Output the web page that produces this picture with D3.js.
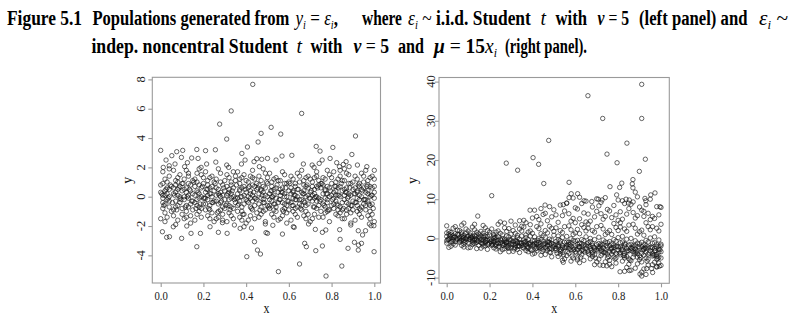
<!DOCTYPE html>
<html><head><meta charset="utf-8">
<script src="https://cdn.jsdelivr.net/npm/d3@7"></script>
<style>
body{margin:0;background:#fff;}
svg{display:block;}
.sq{transform-box:fill-box;transform-origin:center;transform:scaleX(0.86);}
</style>
</head><body>
<svg id="c" width="792" height="321"></svg>
<script>
// ---------------- DATA ----------------
const xTicks = [0, 0.2, 0.4, 0.6, 0.8, 1.0];
const xTickLabels = ["0.0", "0.2", "0.4", "0.6", "0.8", "1.0"];
const leftYTicks = [-4, -2, 0, 2, 4, 6, 8];
const rightYTicks = [-10, 0, 10, 20, 30, 40];

// left panel: y_i = eps_i, eps ~ iid t(5)   (x, y)
const leftPoints = [
[0.431,7.66],[0.33,5.85],[0.66,5.68],[0.276,4.95],[0.517,4.73],[0.47,4.32],[0.562,4.27],[0.912,4.14],[0.309,3.93],[0.456,3.73],
[0.728,3.43],[0.806,3.36],[0.406,3.39],[0.0,3.16],[0.103,3.16],[0.169,3.22],[0.21,3.14],[0.256,3.2],[0.746,3.11],[0.38,2.95],
[0.075,3.07],[0.895,2.88],[0.052,2.8],[0.614,2.82],[0.568,2.77],[0.097,2.68],[0.145,2.64],[0.175,2.61],[0.45,2.59],[0.473,2.55],
[0.5,2.61],[0.54,2.5],[0.793,2.61],[0.756,2.5],[0.742,2.27],[0.824,2.32],[0.868,2.39],[0.025,2.5],[0.012,2.0],[0.04,2.11],
[0.067,2.23],[0.125,2.32],[0.215,2.23],[0.258,2.36],[0.309,2.16],[0.378,2.23],[0.395,2.5],[0.437,2.39],[0.462,2.05],[0.668,2.23],
[0.709,2.16],[0.837,2.05],[0.855,2.2],[0.882,2.05],[0.921,2.16],[0.965,2.05],[0.718,2.0],[0.318,2.0],[0.189,2.0],[0.112,2.05],
[0.551,-5.11],[0.774,-5.41],[0.65,-4.59],[0.848,-4.73],[0.403,-4.09],[0.999,-3.75],[0.169,-3.41],[0.453,-3.64],[0.467,-3.91],[0.439,-3.07],
[0.674,-3.18],[0.682,-3.41],[0.726,-3.68],[0.757,-3.36],[0.907,-3.11],[0.926,-3.3],[0.925,-3.64],[0.94,-3.18],[0.877,-3.52],[0.84,-2.91],
[0.028,-2.77],[0.041,-2.73],[0.098,-2.84],[0.008,-2.39],[0.142,-2.5],[0.186,-2.5],[0.27,-2.43],[0.311,-2.5],[0.493,-2.45],[0.5,-2.5],
[0.57,-2.55],[0.724,-2.23],[0.757,-2.43],[0.773,-2.27],[0.838,-2.25],[0.925,-2.32],[0.945,-2.61],[0.959,-2.32],[0.985,-1.98],[0.621,-2.05],
[0.625,-2.09],[0.372,-2.16],[0.425,-2.14],[0.49,-1.86],[0.525,-1.95],[0.692,-1.86],[0.059,-2.05],[0.122,-2.0],[0.231,-2.05],[0.289,-1.77],
[0.345,-1.93],[0.39,-2.05],[0.89,-1.93],[0.977,-1.86],[0.998,-1.98],
[0.00,0.3],[0.01,-0.4],[0.01,0.9],[0.02,-1.1],[0.02,0.1],[0.03,0.6],[0.03,-0.2],[0.04,1.4],[0.04,-0.7],[0.00,-1.5],[0.01,1.7],[0.02,0.4],[0.03,-1.4],[0.04,0.0],[0.01,-0.8],[0.02,1.2],[0.03,0.2],[0.04,-0.3],[0.00,0.8],[0.01,0.1],[0.02,-0.5],[0.03,1.0],[0.04,0.5],[0.05,-1.0],[0.05,0.7],[0.02,-1.7],[0.04,1.9],[0.01,-0.1],
[0.06,0.2],[0.06,-0.9],[0.07,1.1],[0.07,-0.3],[0.08,0.5],[0.08,-1.6],[0.09,0.0],[0.09,1.5],[0.06,-1.3],[0.07,0.8],[0.08,-0.6],[0.09,-0.1],[0.10,0.4],[0.10,-1.2],[0.06,1.8],[0.07,-0.7],[0.08,1.0],[0.09,-0.4],[0.10,0.9],[0.06,0.6],[0.07,-1.9],[0.08,0.1],[0.09,0.7],[0.10,-0.8],[0.08,1.3],[0.07,0.3],
[0.11,-0.2],[0.11,1.2],[0.12,0.6],[0.12,-1.0],[0.13,0.1],[0.13,1.6],[0.14,-0.5],[0.14,0.8],[0.11,-1.5],[0.12,0.3],[0.13,-0.7],[0.14,-1.3],[0.15,0.2],[0.15,-0.3],[0.11,0.5],[0.12,1.8],[0.13,-0.1],[0.14,0.4],[0.15,1.1],[0.12,-0.6],[0.13,0.9],[0.14,-1.8],[0.11,0.0],[0.15,-0.9],[0.13,1.4],[0.12,-1.4],
[0.16,0.7],[0.16,-0.4],[0.17,1.0],[0.17,-1.2],[0.18,0.2],[0.18,-0.1],[0.19,1.5],[0.19,-0.8],[0.16,-1.6],[0.17,0.4],[0.18,1.9],[0.19,0.0],[0.20,-0.5],[0.20,0.9],[0.16,0.1],[0.17,-0.6],[0.18,-1.0],[0.19,0.6],[0.20,1.3],[0.16,1.2],[0.17,-0.2],[0.18,0.8],[0.19,-1.4],[0.20,-0.1],[0.18,-0.7],[0.17,1.6],
[0.21,0.3],[0.21,-0.9],[0.22,1.1],[0.22,-0.2],[0.23,0.6],[0.23,-1.5],[0.24,0.0],[0.24,1.4],[0.21,-0.5],[0.22,0.8],[0.23,-0.6],[0.24,-1.1],[0.25,0.4],[0.25,-0.3],[0.21,1.7],[0.22,-1.3],[0.23,0.2],[0.24,0.7],[0.25,1.0],[0.22,0.1],[0.23,1.3],[0.24,-0.4],[0.21,-0.1],[0.25,-1.7],[0.23,-0.9],[0.22,0.5],
[0.26,-0.3],[0.26,1.2],[0.27,0.5],[0.27,-1.4],[0.28,0.0],[0.28,1.6],[0.29,-0.7],[0.29,0.8],[0.26,-1.5],[0.27,0.2],[0.28,-0.9],[0.29,-1.2],[0.30,0.4],[0.30,-0.2],[0.26,0.6],[0.27,1.9],[0.28,0.3],[0.29,0.1],[0.30,1.1],[0.27,-0.5],[0.28,1.0],[0.29,-1.6],[0.26,0.1],[0.30,-0.8],[0.28,-0.4],[0.27,-1.0],
[0.31,0.7],[0.31,-0.5],[0.32,1.3],[0.32,-1.1],[0.33,0.2],[0.33,-0.1],[0.34,1.7],[0.34,-0.8],[0.31,-1.7],[0.32,0.5],[0.33,1.0],[0.34,0.0],[0.35,-0.4],[0.35,1.1],[0.31,0.1],[0.32,-0.6],[0.33,-1.3],[0.34,0.6],[0.35,1.4],[0.31,1.5],[0.32,-0.2],[0.33,0.8],[0.34,-1.5],[0.35,-0.1],[0.33,-0.7],[0.32,0.3],
[0.36,0.2],[0.36,-1.0],[0.37,1.2],[0.37,-0.3],[0.38,0.6],[0.38,-1.6],[0.39,0.1],[0.39,1.5],[0.36,-0.6],[0.37,0.9],[0.38,-0.7],[0.39,-1.2],[0.40,0.3],[0.40,-0.2],[0.36,1.7],[0.37,-1.4],[0.38,0.0],[0.39,0.7],[0.40,1.1],[0.37,0.4],[0.38,1.3],[0.39,-0.5],[0.36,-0.1],[0.40,-1.8],[0.38,-1.0],[0.37,0.5],
[0.41,-0.4],[0.41,1.0],[0.42,0.4],[0.42,-1.3],[0.43,0.1],[0.43,1.8],[0.44,-0.6],[0.44,0.7],[0.41,-1.6],[0.42,0.2],[0.43,-0.9],[0.44,-0.1],[0.45,0.5],[0.45,-1.1],[0.41,0.6],[0.42,1.4],[0.43,-0.3],[0.44,1.2],[0.45,0.9],[0.42,-0.7],[0.43,0.8],[0.44,-1.5],[0.41,0.0],[0.45,-0.2],[0.43,1.3],[0.42,-0.1],
[0.46,0.8],[0.46,-0.5],[0.47,1.1],[0.47,-1.2],[0.48,0.3],[0.48,-0.2],[0.49,1.6],[0.49,-0.9],[0.46,-1.4],[0.47,0.5],[0.48,1.9],[0.49,0.1],[0.50,-0.6],[0.50,0.9],[0.46,0.2],[0.47,-0.7],[0.48,-1.0],[0.49,0.6],[0.50,1.3],[0.46,1.4],[0.47,-0.1],[0.48,0.7],[0.49,-1.7],[0.50,0.0],[0.48,-0.4],[0.47,0.4],
[0.51,0.2],[0.51,-0.8],[0.52,1.0],[0.52,-0.3],[0.53,0.5],[0.53,-1.4],[0.54,-0.1],[0.54,1.3],[0.51,-0.6],[0.52,0.7],[0.53,-0.5],[0.54,-1.0],[0.55,0.3],[0.55,-0.4],[0.51,1.6],[0.52,-1.2],[0.53,0.1],[0.54,0.6],[0.55,1.1],[0.52,0.0],[0.53,1.2],[0.54,-0.7],[0.51,-0.2],[0.55,-1.6],[0.53,-0.9],[0.52,0.4],
[0.56,-0.2],[0.56,1.1],[0.57,0.6],[0.57,-1.3],[0.58,0.0],[0.58,1.5],[0.59,-0.6],[0.59,0.9],[0.56,-1.5],[0.57,0.3],[0.58,-0.8],[0.59,-1.1],[0.60,0.4],[0.60,-0.3],[0.56,0.5],[0.57,1.7],[0.58,0.2],[0.59,0.0],[0.60,1.0],[0.57,-0.4],[0.58,0.9],[0.59,-1.8],[0.56,0.1],[0.60,-0.9],[0.58,-0.5],[0.57,-0.9],
[0.61,0.6],[0.61,-0.4],[0.62,1.2],[0.62,-1.0],[0.63,0.1],[0.63,-0.2],[0.64,1.6],[0.64,-0.7],[0.61,-1.6],[0.62,0.4],[0.63,0.9],[0.64,0.0],[0.65,-0.5],[0.65,1.0],[0.61,0.2],[0.62,-0.6],[0.63,-1.2],[0.64,0.5],[0.65,1.4],[0.61,1.4],[0.62,-0.1],[0.63,0.7],[0.64,-1.4],[0.65,-0.2],[0.63,-0.8],[0.62,0.3],
[0.66,0.3],[0.66,-0.9],[0.67,1.1],[0.67,-0.3],[0.68,0.7],[0.68,-1.5],[0.69,0.1],[0.69,1.4],[0.66,-0.6],[0.67,0.8],[0.68,-0.6],[0.69,-1.2],[0.70,0.3],[0.70,-0.1],[0.66,1.8],[0.67,-1.3],[0.68,0.0],[0.69,0.6],[0.70,1.2],[0.67,0.4],[0.68,1.3],[0.69,-0.5],[0.66,-0.2],[0.70,-1.7],[0.68,-1.0],[0.67,0.2],
[0.71,-0.3],[0.71,1.0],[0.72,0.5],[0.72,-1.2],[0.73,0.0],[0.73,1.7],[0.74,-0.6],[0.74,0.8],[0.71,-1.5],[0.72,0.2],[0.73,-0.8],[0.74,-0.1],[0.75,0.6],[0.75,-1.0],[0.71,0.7],[0.72,1.3],[0.73,-0.3],[0.74,1.1],[0.75,0.9],[0.72,-0.7],[0.73,0.7],[0.74,-1.4],[0.71,0.1],[0.75,-0.2],[0.73,1.4],[0.72,-0.1],
[0.76,0.8],[0.76,-0.5],[0.77,1.2],[0.77,-1.1],[0.78,0.2],[0.78,-0.2],[0.79,1.5],[0.79,-0.9],[0.76,-1.4],[0.77,0.4],[0.78,1.8],[0.79,0.0],[0.80,-0.6],[0.80,0.9],[0.76,0.2],[0.77,-0.7],[0.78,-1.0],[0.79,0.6],[0.80,1.3],[0.76,1.3],[0.77,-0.1],[0.78,0.7],[0.79,-1.7],[0.80,0.1],[0.78,-0.4],[0.77,0.5],
[0.81,0.3],[0.81,-0.8],[0.82,1.0],[0.82,-0.3],[0.83,0.6],[0.83,-1.3],[0.84,0.0],[0.84,1.4],[0.81,-0.5],[0.82,0.7],[0.83,-0.6],[0.84,-1.1],[0.85,0.4],[0.85,-0.4],[0.81,1.7],[0.82,-1.2],[0.83,0.1],[0.84,0.7],[0.85,1.1],[0.82,0.1],[0.83,1.2],[0.84,-0.7],[0.81,-0.1],[0.85,-1.5],[0.83,-0.9],[0.82,0.4],[0.84,1.8],[0.85,-0.9],
[0.86,-0.2],[0.86,1.1],[0.87,0.6],[0.87,-1.2],[0.88,0.0],[0.88,1.5],[0.89,-0.6],[0.89,0.9],[0.86,-1.5],[0.87,0.3],[0.88,-0.8],[0.89,-1.1],[0.90,0.5],[0.90,-0.3],[0.86,0.5],[0.87,1.6],[0.88,0.2],[0.89,0.1],[0.90,1.0],[0.87,-0.4],[0.88,0.9],[0.89,-1.8],[0.86,0.1],[0.90,-0.9],[0.88,-0.5],[0.87,-0.9],[0.86,1.9],
[0.91,0.6],[0.91,-0.4],[0.92,1.2],[0.92,-1.0],[0.93,0.1],[0.93,-0.2],[0.94,1.6],[0.94,-0.7],[0.91,-1.6],[0.92,0.4],[0.93,0.9],[0.94,0.0],[0.95,-0.5],[0.95,1.0],[0.91,0.2],[0.92,-0.6],[0.93,-1.2],[0.94,0.5],[0.95,1.4],[0.91,1.4],[0.92,-0.1],[0.93,0.7],[0.94,-1.4],[0.95,-0.2],[0.93,-0.8],[0.92,0.3],[0.95,0.6],
[0.96,0.3],[0.96,-0.9],[0.97,1.1],[0.97,-0.3],[0.98,0.7],[0.98,-1.5],[0.99,0.1],[0.99,1.4],[0.96,-0.6],[0.97,0.8],[0.98,-0.6],[0.99,-1.2],[1.00,0.3],[1.00,-0.1],[0.96,1.8],[0.97,-1.3],[0.98,0.0],[0.99,0.6],[1.00,1.2],[0.97,0.4],[0.98,1.3],[0.99,-0.5],[0.96,-0.2],[1.00,-1.7],[0.98,-1.0],[0.97,0.2],[1.00,1.8],[1.00,0.7],
[0.005,0.2],[0.015,-0.6],[0.025,0.5],[0.035,-0.1],[0.045,0.8],[0.055,-0.4],[0.065,0.1],[0.075,-0.9],[0.085,0.6],[0.095,-0.2],[0.105,0.9],[0.115,-0.7],[0.125,0.0],[0.135,0.5],[0.145,-0.3],[0.155,1.0],[0.165,-0.8],[0.175,0.3],[0.185,-0.5],[0.195,0.7],
[0.205,-0.1],[0.215,0.5],[0.225,-0.8],[0.235,0.2],[0.245,-0.4],[0.255,0.9],[0.265,-1.1],[0.275,0.1],[0.285,-0.3],[0.295,0.6],[0.305,-0.6],[0.315,0.2],[0.325,-0.9],[0.335,0.4],[0.345,-0.2],[0.355,0.8],[0.365,-0.5],[0.375,0.0],[0.385,-1.2],[0.395,0.5],
[0.405,-0.3],[0.415,0.7],[0.425,-0.8],[0.435,0.3],[0.445,-0.1],[0.455,0.6],[0.465,-0.9],[0.475,0.1],[0.485,-0.4],[0.495,1.0],[0.505,-0.7],[0.515,0.4],[0.525,0.0],[0.535,-0.5],[0.545,0.8],[0.555,-0.2],[0.565,0.3],[0.575,-1.0],[0.585,0.6],[0.595,-0.3],
[0.605,0.9],[0.615,-0.6],[0.625,0.1],[0.635,-0.2],[0.645,0.5],[0.655,-0.8],[0.665,0.2],[0.675,-0.4],[0.685,0.8],[0.695,-0.1],[0.705,0.4],[0.715,-0.7],[0.725,0.0],[0.735,0.6],[0.745,-0.3],[0.755,0.9],[0.765,-0.6],[0.775,0.2],[0.785,-0.9],[0.795,0.4],
[0.805,-0.2],[0.815,0.7],[0.825,-0.5],[0.835,0.1],[0.845,0.9],[0.855,-0.8],[0.865,0.3],[0.875,-0.1],[0.885,0.6],[0.895,-0.6],[0.905,0.2],[0.915,-0.4],[0.925,0.8],[0.935,-0.9],[0.945,0.4],[0.955,-0.2],[0.965,0.7],[0.975,-0.5],[0.985,0.1],[0.995,-0.8]
];

// right panel: noncentral t(5), mu = 15 x   (x, y)
const rightPoints = [
[0.91,39.3],[0.659,36.4],[0.728,30.6],[0.91,30.6],[0.476,25.0],[0.841,24.3],[0.748,21.5],[0.403,20.6],[0.927,20.2],[0.278,19.2],
[0.429,18.9],[0.795,19.3],[0.331,17.4],[0.899,17.1],[0.869,15.0],[0.866,13.9],[0.869,12.9],[0.817,14.1],[0.807,13.0],[0.762,13.2],
[0.453,14.0],[0.571,14.3],[0.21,10.9],[0.581,11.4],[0.611,11.4],[0.62,10.5],[0.641,9.6],[0.571,10.4],[0.56,9.0],[0.677,9.4],
[0.707,10.0],[0.725,9.8],[0.793,11.1],[0.925,10.2],[0.952,11.1],[0.972,11.6],[0.837,10.0],[0.852,9.8],[0.848,9.0],[0.929,9.6],
[0.459,8.5],[0.544,8.6],[0.145,5.7],[0.389,7.2],[0.98,8.1],[0.995,8.1],[0.809,-8.5],[0.852,-8.2],[0.902,-9.1],[0.91,-9.6],
[0.956,-7.7],[0.961,-8.7],[0.98,-7.2],[0.992,-7.1],[0.933,-7.7],[0.715,-6.8],[0.747,-7.0],[0.544,-6.1],[0.61,-5.5],
[0.00,0.5],[0.00,-1.2],[0.01,1.8],[0.01,-0.3],[0.02,0.9],[0.02,-2.0],[0.03,0.2],[0.03,2.6],[0.04,-0.8],[0.04,1.2],[0.00,-0.6],[0.01,0.0],[0.02,1.5],[0.03,-1.4],[0.04,0.4],[0.05,-0.2],[0.05,2.1],[0.00,3.2],[0.01,-2.3],[0.02,-0.9],[0.03,0.7],[0.04,-1.7],[0.05,1.0],[0.02,0.1],[0.03,-0.4],[0.01,1.1],[0.04,3.0],[0.00,1.4],
[0.06,0.3],[0.06,-1.0],[0.07,1.6],[0.07,-0.4],[0.08,0.8],[0.08,-2.2],[0.09,0.0],[0.09,2.4],[0.06,-0.7],[0.07,1.1],[0.08,-1.5],[0.09,-0.2],[0.10,0.6],[0.10,-1.1],[0.06,2.0],[0.07,-1.8],[0.08,0.2],[0.09,1.3],[0.10,1.9],[0.07,0.5],[0.08,3.9],[0.09,-0.8],[0.06,-0.1],[0.10,-2.4],[0.08,-0.5],[0.07,3.4],
[0.11,-0.2],[0.11,1.4],[0.12,0.5],[0.12,-1.6],[0.13,-0.5],[0.13,2.2],[0.14,-1.0],[0.14,0.9],[0.11,-2.3],[0.12,0.1],[0.13,-1.3],[0.14,-0.3],[0.15,0.4],[0.15,-1.8],[0.11,0.8],[0.12,2.9],[0.13,-0.1],[0.14,1.6],[0.15,1.2],[0.12,-0.9],[0.13,0.7],[0.14,-2.6],[0.11,0.2],[0.15,-0.7],[0.13,3.6],[0.12,-0.4],
[0.16,0.6],[0.16,-1.1],[0.17,1.3],[0.17,-2.0],[0.18,-0.2],[0.18,-0.8],[0.19,2.0],[0.19,-1.5],[0.16,-2.5],[0.17,0.3],[0.18,2.7],[0.19,-0.4],[0.20,-1.2],[0.20,0.9],[0.16,-0.3],[0.17,-1.4],[0.18,-1.9],[0.19,0.5],[0.20,1.6],[0.16,1.8],[0.17,-0.6],[0.18,0.6],[0.19,-2.8],[0.20,-0.3],[0.18,-1.0],[0.17,3.3],
[0.21,-0.4],[0.21,-1.8],[0.22,1.0],[0.22,-1.0],[0.23,0.3],[0.23,-2.7],[0.24,-0.6],[0.24,1.9],[0.21,-1.4],[0.22,0.6],[0.23,-1.5],[0.24,-2.2],[0.25,-0.2],[0.25,-1.1],[0.21,2.4],[0.22,-2.4],[0.23,-0.4],[0.24,0.4],[0.25,1.3],[0.22,-0.7],[0.23,1.6],[0.24,-1.3],[0.21,-0.9],[0.25,-3.4],[0.23,-1.9],[0.22,0.1],[0.24,3.6],[0.25,4.2],
[0.26,-1.3],[0.26,0.9],[0.27,-0.2],[0.27,-2.6],[0.28,-1.0],[0.28,1.8],[0.29,-1.9],[0.29,0.4],[0.26,-2.9],[0.27,-0.6],[0.28,-2.1],[0.29,-2.5],[0.30,-0.4],[0.30,-1.4],[0.26,-0.1],[0.27,2.7],[0.28,-0.8],[0.29,-0.9],[0.30,1.1],[0.27,-1.5],[0.28,0.6],[0.29,-3.4],[0.26,-1.7],[0.30,-2.2],[0.28,-1.2],[0.27,3.9],[0.29,2.5],[0.30,4.4],
[0.31,0.0],[0.31,-1.6],[0.32,1.3],[0.32,-2.4],[0.33,-0.9],[0.33,-1.2],[0.34,2.4],[0.34,-2.0],[0.31,-3.3],[0.32,-0.5],[0.33,0.8],[0.34,-1.1],[0.35,-1.8],[0.35,0.6],[0.31,-0.8],[0.32,-1.9],[0.33,-2.8],[0.34,-0.2],[0.35,1.9],[0.31,2.0],[0.32,-1.4],[0.33,0.2],[0.34,-3.6],[0.35,-1.3],[0.33,-2.1],[0.32,3.4],[0.34,4.5],[0.35,3.1],
[0.36,-1.0],[0.36,-2.5],[0.37,0.9],[0.37,-1.5],[0.38,-0.3],[0.38,-3.4],[0.39,-1.1],[0.39,1.9],[0.36,-1.9],[0.37,0.2],[0.38,-2.2],[0.39,-2.8],[0.40,-0.6],[0.40,-1.7],[0.36,2.9],[0.37,-3.1],[0.38,-1.3],[0.39,0.6],[0.40,1.3],[0.37,-0.8],[0.38,1.6],[0.39,-1.6],[0.36,-0.4],[0.40,-4.0],[0.38,-2.6],[0.37,4.0],[0.39,3.5],[0.40,5.2],[0.36,4.6],
[0.41,-2.0],[0.41,0.4],[0.42,-1.1],[0.42,-3.2],[0.43,-1.6],[0.43,2.5],[0.44,-2.6],[0.44,-0.3],[0.41,-3.8],[0.42,-1.4],[0.43,-2.3],[0.44,-1.9],[0.45,-0.8],[0.45,-2.9],[0.41,-0.6],[0.42,3.0],[0.43,-1.0],[0.44,1.2],[0.45,0.7],[0.42,-2.5],[0.43,0.0],[0.44,-4.3],[0.41,-1.3],[0.45,-1.5],[0.43,4.8],[0.42,5.6],[0.44,3.7],[0.45,6.1],[0.41,7.2],[0.44,7.6],
[0.46,0.3],[0.46,-2.3],[0.47,1.4],[0.47,-3.0],[0.48,-1.5],[0.48,-1.0],[0.49,2.6],[0.49,-2.7],[0.46,-4.1],[0.47,-0.9],[0.48,3.1],[0.49,-1.3],[0.50,-2.0],[0.50,0.8],[0.46,-1.2],[0.47,-2.0],[0.48,-3.5],[0.49,-0.4],[0.50,1.8],[0.46,2.0],[0.47,-1.7],[0.48,-0.2],[0.49,-4.7],[0.50,-1.6],[0.48,-2.6],[0.47,4.5],[0.49,5.5],[0.46,6.4],[0.50,7.3],[0.48,8.1],
[0.51,-1.5],[0.51,-3.1],[0.52,0.6],[0.52,-2.0],[0.53,-0.6],[0.53,-4.0],[0.54,-1.8],[0.54,1.5],[0.51,-2.6],[0.52,-0.3],[0.53,-2.8],[0.54,-3.6],[0.55,-1.0],[0.55,-2.3],[0.51,2.7],[0.52,-4.6],[0.53,-1.2],[0.54,0.2],[0.55,3.0],[0.52,-1.6],[0.53,2.0],[0.54,-2.4],[0.51,-0.8],[0.55,-5.2],[0.53,-3.3],[0.52,4.1],[0.54,5.8],[0.55,7.0],[0.51,6.0],[0.53,8.5],[0.54,-5.6],
[0.56,-2.2],[0.56,0.5],[0.57,-1.0],[0.57,-3.8],[0.58,-2.0],[0.58,2.2],[0.59,-3.0],[0.59,-0.5],[0.56,-4.4],[0.57,-1.5],[0.58,-2.9],[0.59,-2.4],[0.60,-0.7],[0.60,-3.4],[0.56,-0.9],[0.57,3.2],[0.58,-1.2],[0.59,1.0],[0.60,1.4],[0.57,-2.6],[0.58,-0.1],[0.59,-5.0],[0.56,-1.7],[0.60,-1.9],[0.58,4.4],[0.57,6.3],[0.59,5.1],[0.60,7.8],[0.56,9.0],[0.58,-5.8],[0.59,10.3],[0.60,4.0],
[0.61,-0.5],[0.61,-2.9],[0.62,1.2],[0.62,-3.6],[0.63,-2.0],[0.63,-1.4],[0.64,2.8],[0.64,-3.2],[0.61,-5.0],[0.62,-1.2],[0.63,3.5],[0.64,-1.7],[0.65,-2.6],[0.65,0.4],[0.61,-1.5],[0.62,-2.4],[0.63,-4.2],[0.64,-0.6],[0.65,1.9],[0.61,2.3],[0.62,-2.1],[0.63,-0.3],[0.64,-5.6],[0.65,-1.9],[0.63,-3.1],[0.62,5.0],[0.64,6.5],[0.61,7.5],[0.65,4.2],[0.63,8.9],[0.62,-6.2],[0.65,9.5],
[0.66,-2.0],[0.66,-3.8],[0.67,0.0],[0.67,-2.6],[0.68,-1.3],[0.68,-4.6],[0.69,-2.4],[0.69,1.6],[0.66,-3.3],[0.67,-0.8],[0.68,-3.5],[0.69,-4.2],[0.70,-1.6],[0.70,-2.9],[0.66,2.6],[0.67,-5.2],[0.68,-1.8],[0.69,-0.3],[0.70,3.0],[0.67,-2.1],[0.68,2.0],[0.69,-3.0],[0.66,-1.1],[0.70,-6.0],[0.68,-4.0],[0.67,4.4],[0.69,5.5],[0.70,6.9],[0.66,6.2],[0.68,8.0],[0.69,-6.7],[0.66,3.7],[0.70,10.1],
[0.71,-2.6],[0.71,0.3],[0.72,-1.5],[0.72,-4.4],[0.73,-2.4],[0.73,2.4],[0.74,-3.6],[0.74,-0.9],[0.71,-5.3],[0.72,-1.9],[0.73,-3.4],[0.74,-2.9],[0.75,-1.1],[0.75,-4.0],[0.71,-1.3],[0.72,3.3],[0.73,-1.6],[0.74,1.0],[0.75,1.5],[0.72,-3.0],[0.73,-0.4],[0.74,-6.0],[0.71,-2.1],[0.75,-2.3],[0.73,4.9],[0.72,6.3],[0.74,5.6],[0.75,7.4],[0.71,8.3],[0.73,-6.9],[0.74,10.4],[0.72,9.2],[0.75,-5.0],
[0.76,-0.8],[0.76,-3.5],[0.77,1.0],[0.77,-4.0],[0.78,-2.3],[0.78,-1.7],[0.79,2.8],[0.79,-3.8],[0.76,-5.6],[0.77,-1.4],[0.78,3.8],[0.79,-2.0],[0.80,-3.0],[0.80,0.2],[0.76,-1.9],[0.77,-2.7],[0.78,-4.7],[0.79,-0.7],[0.80,2.0],[0.76,2.0],[0.77,-2.4],[0.78,-0.3],[0.79,-6.3],[0.80,-2.2],[0.78,-3.3],[0.77,5.3],[0.79,6.0],[0.76,7.0],[0.80,4.6],[0.78,8.4],[0.77,-7.2],[0.80,9.8],[0.79,-5.0],[0.76,-6.6],
[0.81,-2.2],[0.81,-4.2],[0.82,0.5],[0.82,-2.9],[0.83,-1.4],[0.83,-5.0],[0.84,-2.6],[0.84,1.8],[0.81,-3.6],[0.82,-0.9],[0.83,-3.9],[0.84,-4.6],[0.85,-1.7],[0.85,-3.2],[0.81,2.9],[0.82,-5.8],[0.83,-2.0],[0.84,-0.2],[0.85,3.4],[0.82,-2.4],[0.83,2.4],[0.84,-3.3],[0.81,-1.1],[0.85,-6.6],[0.83,-4.4],[0.82,4.9],[0.84,6.2],[0.85,7.6],[0.81,6.8],[0.83,8.9],[0.84,-7.4],[0.81,4.0],[0.85,-5.2],[0.82,9.6],[0.83,-8.4],
[0.86,-3.0],[0.86,0.0],[0.87,-1.8],[0.87,-4.8],[0.88,-2.7],[0.88,2.6],[0.89,-3.9],[0.89,-1.2],[0.86,-5.7],[0.87,-2.2],[0.88,-3.6],[0.89,-3.1],[0.90,-1.4],[0.90,-4.4],[0.86,-1.5],[0.87,3.6],[0.88,-1.9],[0.89,1.1],[0.90,1.7],[0.87,-3.4],[0.88,-0.6],[0.89,-6.5],[0.86,-2.4],[0.90,-2.5],[0.88,5.2],[0.87,6.6],[0.89,5.8],[0.90,8.0],[0.86,8.7],[0.88,-7.6],[0.89,10.6],[0.87,9.3],[0.90,-5.4],[0.86,-8.1],[0.88,11.8],[0.89,-4.8],
[0.91,-1.0],[0.91,-3.8],[0.92,0.8],[0.92,-4.3],[0.93,-2.5],[0.93,-1.9],[0.94,3.0],[0.94,-4.0],[0.91,-6.0],[0.92,-1.6],[0.93,4.0],[0.94,-2.2],[0.95,-3.2],[0.95,0.1],[0.91,-2.1],[0.92,-2.9],[0.93,-5.0],[0.94,-0.9],[0.95,2.2],[0.91,2.1],[0.92,-2.6],[0.93,-0.5],[0.94,-6.8],[0.95,-2.4],[0.93,-3.5],[0.92,5.6],[0.94,6.4],[0.91,7.2],[0.95,4.8],[0.93,8.6],[0.92,-7.8],[0.95,10.0],[0.94,-5.3],[0.91,-8.6],[0.93,-9.2],[0.92,6.9],
[0.96,-2.4],[0.96,-4.5],[0.97,0.4],[0.97,-3.2],[0.98,-1.6],[0.98,-5.3],[0.99,-2.8],[0.99,1.9],[0.96,-3.9],[0.97,-1.1],[0.98,-4.1],[0.99,-4.8],[1.00,-1.9],[1.00,-3.4],[0.96,3.0],[0.97,-6.1],[0.98,-2.2],[0.99,-0.4],[1.00,3.6],[0.97,-2.6],[0.98,2.6],[0.99,-3.5],[0.96,-1.2],[1.00,-6.9],[0.98,-4.6],[0.97,5.1],[0.99,6.0],[1.00,7.9],[0.96,5.6],[0.98,-7.3],[0.99,-6.3],[1.00,-1.5],[0.97,-4.2],[0.99,-2.0],[1.00,-5.0],[0.96,-6.7],
[0.005,-0.3],[0.015,0.6],[0.025,-0.8],[0.035,0.3],[0.045,-0.2],[0.055,0.9],[0.065,-0.5],[0.075,0.1],[0.085,-1.0],[0.095,0.5],[0.105,-0.3],[0.115,0.2],[0.125,-1.2],[0.135,0.4],[0.145,-0.6],[0.155,0.0],[0.165,-1.3],[0.175,0.7],[0.185,-0.5],[0.195,-1.6],
[0.205,-0.8],[0.215,-1.6],[0.225,0.2],[0.235,-1.1],[0.245,-2.0],[0.255,-0.5],[0.265,-1.8],[0.275,-1.0],[0.285,-2.4],[0.295,-0.3],[0.305,-1.5],[0.315,-2.7],[0.325,-0.7],[0.335,-1.9],[0.345,-1.2],[0.355,-2.3],[0.365,-0.9],[0.375,-2.0],[0.385,-1.4],[0.395,-3.0],
[0.405,-1.7],[0.415,-2.6],[0.425,-0.5],[0.435,-2.1],[0.445,-3.3],[0.455,-1.4],[0.465,-2.5],[0.475,-0.9],[0.485,-3.6],[0.495,-2.2],
[0.505,-2.6],[0.515,-3.8],[0.525,-1.9],[0.535,-3.0],[0.545,-4.2],[0.555,-2.4],[0.565,-3.3],[0.575,-1.6],[0.585,-4.5],[0.595,-2.8],[0.605,-3.7],[0.615,-2.1],[0.625,-4.8],[0.635,-2.9],[0.645,-3.5],[0.655,-1.4],[0.665,-4.1],[0.675,-3.0],[0.685,-2.2],[0.695,-5.0],
[0.705,-3.2],[0.715,-2.5],[0.725,-4.0],[0.735,-3.6],[0.745,-1.8],[0.755,-4.6],[0.765,-2.7],[0.775,-3.3],[0.785,-5.2],[0.795,-2.0],[0.805,-3.8],[0.815,-2.9],[0.825,-4.4],[0.835,-1.5],[0.845,-3.1],[0.855,-5.5],[0.865,-2.6],[0.875,-4.0],[0.885,-3.4],[0.895,-2.1],
[0.905,-4.9],[0.915,-3.0],[0.925,-2.4],[0.935,-5.8],[0.945,-3.7],[0.955,-2.2],[0.965,-4.3],[0.975,-3.1],[0.985,-5.1],[0.995,-2.9]
];

// ---------------- DRAWING ----------------
const svg = d3.select("#c");
const SERIF = "'Liberation Serif','Times New Roman',serif";
const FRAME = "#9a9a9a";

function drawPanel(cfg) {
  const g = svg.append("g");
  const x = d3.scaleLinear().domain([0, 1]).range(cfg.xRange);
  const y = d3.scaleLinear().domain(cfg.yDomain).range(cfg.yRange);
  const [bx0, by0, bx1, by1] = cfg.box;

  g.append("g").selectAll("circle").data(cfg.points).join("circle")
    .attr("cx", d => x(d[0])).attr("cy", d => y(d[1])).attr("r", 2.2)
    .attr("fill", "none").attr("stroke", "#111").attr("stroke-opacity", 0.8)
    .attr("stroke-width", 0.8);

  g.append("rect").attr("x", bx0).attr("y", by0)
    .attr("width", bx1 - bx0).attr("height", by1 - by0)
    .attr("fill", "none").attr("stroke", FRAME).attr("stroke-width", 1.1);

  const xa = g.append("g").attr("transform", `translate(0,${by1})`)
    .call(d3.axisBottom(x).tickValues(xTicks).tickFormat((d, i) => xTickLabels[i])
      .tickSize(4).tickPadding(4));
  xa.select(".domain").remove();
  xa.selectAll(".tick line").attr("stroke", FRAME).attr("stroke-width", 1.1);
  xa.selectAll(".tick text").attr("font-family", SERIF).attr("font-size", 12.5)
    .attr("fill", "#222").attr("dy", "0.71em").attr("class", "sq");

  const ya = g.append("g").attr("transform", `translate(${bx0},0)`)
    .call(d3.axisLeft(y).tickValues(cfg.yTicks).tickSize(4).tickFormat(""));
  ya.select(".domain").remove();
  ya.selectAll(".tick line").attr("stroke", FRAME).attr("stroke-width", 1.1);
  g.append("g").selectAll("text").data(cfg.yTicks).join("text")
    .attr("transform", d => `translate(${cfg.yLabelX},${y(d)}) rotate(-90)`)
    .attr("text-anchor", "middle").attr("font-family", SERIF).attr("font-size", 12.5)
    .attr("fill", "#222").text(d => String(d));

  g.append("text").attr("x", (bx0 + bx1) / 2).attr("y", 313)
    .attr("text-anchor", "middle").attr("font-family", SERIF).attr("font-size", 14)
    .attr("fill", "#111").attr("class", "sq").text("x");
  g.append("text").attr("transform", `translate(${cfg.yTitleX},${(by0 + by1) / 2}) rotate(-90)`)
    .attr("text-anchor", "middle").attr("font-family", SERIF).attr("font-size", 14)
    .attr("fill", "#111").text("y");
}

drawPanel({
  points: leftPoints, xRange: [160.7, 374.3], yDomain: [0, 8], yRange: [196.7, 79.4],
  box: [152.3, 77.3, 380.5, 283], yTicks: leftYTicks, yLabelX: 144.5, yTitleX: 131.5
});
drawPanel({
  points: rightPoints, xRange: [446.7, 661], yDomain: [0, 40], yRange: [238.4, 81.6],
  box: [439, 77.5, 669.3, 283.3], yTicks: rightYTicks, yLabelX: 435, yTitleX: 417
});

// ---------------- TITLE ----------------
const FS = 20.5;
const T = svg.append("g").attr("font-family", SERIF).attr("fill", "#000").attr("font-weight", "bold");
// each segment is squeezed horizontally (as in the condensed original) by a scale transform
function seg(parts, x, y, len) {
  const g = T.append("g");
  const t = g.append("text").attr("x", 0).attr("y", 0).attr("font-size", FS);
  let shifted = false;
  parts.forEach(([txt, f = ""]) => {
    const s = t.append("tspan").text(txt);
    if (f.includes("i")) s.attr("font-style", "italic");
    if (f.includes("n")) s.attr("font-weight", "normal");
    if (f.includes("s")) { s.attr("font-size", FS * 0.6).attr("dy", 4); shifted = true; }
    else if (shifted) { s.attr("dy", -4); shifted = false; }
  });
  const w = t.node().getComputedTextLength() || len;
  g.attr("transform", `translate(${x},${y}) scale(${len / w},1)`);
}
const L1 = 25, L2 = 53;
seg([["Figure 5.1"]], 7, L1, 75);
seg([["Populations generated from"]], 92.4, L1, 197);
seg([["y", "in"], ["i", "ins"], [" = ", "n"], ["ε", "in"], ["i", "ins"], [","]], 295.5, L1, 42.5);
seg([["where"]], 362, L1, 40);
seg([["ε", "in"], ["i", "ins"], [" ~ ", "n"], ["i.i.d. Student"]], 408, L1, 123);
seg([["t", "in"]], 540.5, L1, 5.5);
seg([["with"]], 555.5, L1, 31.5);
seg([["ν", "i"], [" = ", "n"], ["5"]], 597.5, L1, 31.5);
seg([["(left panel) and"]], 639, L1, 108.5);
seg([["ε", "in"], ["i", "ins"], [" ~", "n"]], 759, L1, 29);

seg([["indep. noncentral Student"]], 91.4, L2, 196.6);
seg([["t", "in"]], 296.5, L2, 5.5);
seg([["with"]], 310.6, L2, 31.8);
seg([["ν", "i"], [" = ", "n"], ["5"]], 353.5, L2, 35.5);
seg([["and"]], 398, L2, 26);
seg([["μ", "i"], [" = ", "n"], ["15"], ["x", "in"], ["i", "ins"]], 434, L2, 63);
seg([["(right panel)."]], 505, L2, 82);
</script>
</body></html>
